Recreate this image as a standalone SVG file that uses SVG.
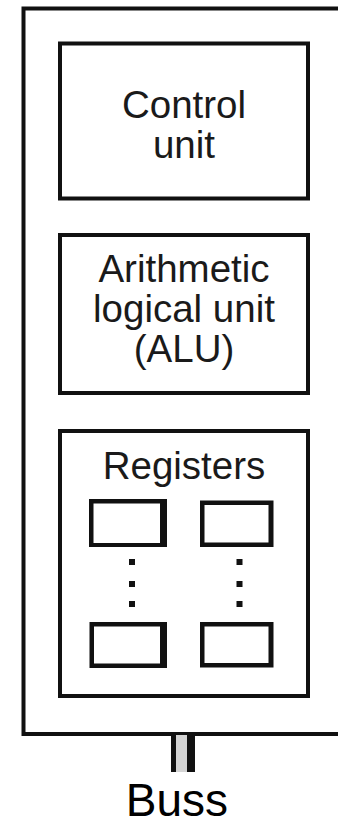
<svg xmlns="http://www.w3.org/2000/svg" width="338" height="827" viewBox="0 0 338 827">
  <style>
    .frame { fill: #ffffff; stroke: #111111; stroke-width: 4; }
    .box { fill: #ffffff; stroke: #111111; stroke-width: 4; }
    .reg { fill: #111111; fill-rule: evenodd; }
    .dot { fill: #111111; }
    .label { font-family: "Liberation Sans", Arial, sans-serif; font-size: 38.5px; fill: #1a1a1a; text-anchor: middle; }
    .caption { font-family: "Liberation Sans", Arial, sans-serif; font-size: 46px; fill: #000000; text-anchor: middle; }
  </style>
  <rect width="338" height="827" fill="#ffffff"/>

  <!-- CPU enclosure (continues past the right edge) -->
  <g id="cpu">
    <rect class="frame" x="23.5" y="8.5" width="340" height="725.5"/>
  </g>

  <!-- Bus leaving the CPU -->
  <g id="connectors">
    <rect x="174" y="735" width="14" height="37" fill="#d4d4d4"/>
    <rect x="171" y="735" width="5" height="37" fill="#111111"/>
    <rect x="187" y="735" width="8" height="37" fill="#111111"/>
  </g>

  <g id="control-unit">
    <rect class="box" x="60" y="43.5" width="248" height="155"/>
    <text class="label" x="184" y="118">Control</text>
    <text class="label" x="184" y="158">unit</text>
  </g>

  <g id="alu">
    <rect class="box" x="60" y="235" width="248" height="158"/>
    <text class="label" x="184" y="282">Arithmetic</text>
    <text class="label" x="184" y="322">logical unit</text>
    <text class="label" x="184" y="362">(ALU)</text>
  </g>

  <g id="registers">
    <rect class="box" x="60" y="431" width="248" height="265"/>
    <text class="label" x="184" y="479">Registers</text>

    <!-- register cells: left column has a heavier right edge -->
    <path class="reg" d="M89 499H167V547H89Z M93.5 503.5V543H160V503.5Z"/>
    <path class="reg" d="M200 500.5H273.5V547H200Z M204.5 505V542.5H268.5V505Z"/>
    <path class="reg" d="M89.5 622H167V668H89.5Z M94 626.5V663.5H160V626.5Z"/>
    <path class="reg" d="M200 622H273.5V667.5H200Z M204.5 626.5V663H268.5V626.5Z"/>

    <!-- ellipsis dots between the rows -->
    <rect class="dot" x="129" y="559" width="6" height="6"/>
    <rect class="dot" x="129" y="581" width="6" height="6"/>
    <rect class="dot" x="129" y="601" width="6" height="6"/>
    <rect class="dot" x="236.5" y="559" width="6" height="6"/>
    <rect class="dot" x="236.5" y="581" width="6" height="6"/>
    <rect class="dot" x="236.5" y="601" width="6" height="6"/>
  </g>

  <g id="bus-label">
    <text class="caption" x="177" y="816">Buss</text>
  </g>
</svg>
